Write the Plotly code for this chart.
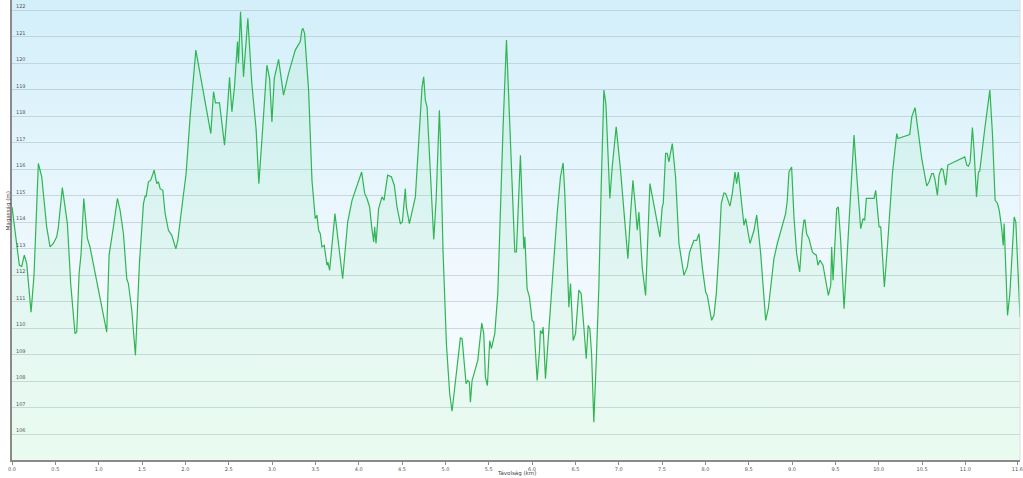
import base64
import plotly.graph_objects as go

# Elevation profile: distance (km) and elevation (m)
distance_km = [
    0.000, 0.054, 0.085, 0.112, 0.142, 0.170, 0.220, 0.254, 0.304, 0.343,
    0.400, 0.439, 0.477, 0.516, 0.535, 0.581, 0.639, 0.677, 0.727, 0.747,
    0.774, 0.797, 0.828, 0.870, 0.900, 1.093, 1.120, 1.170, 1.216, 1.247,
    1.286, 1.324, 1.343, 1.382, 1.424, 1.470, 1.517, 1.536, 1.547, 1.574,
    1.601, 1.640, 1.670, 1.690, 1.709, 1.740, 1.767, 1.805, 1.844, 1.890,
    1.913, 1.960, 2.009, 2.055, 2.121, 2.190, 2.294, 2.325, 2.348, 2.394,
    2.452, 2.487, 2.510, 2.537, 2.567, 2.602, 2.613, 2.637, 2.671, 2.721,
    2.767, 2.817, 2.848, 2.883, 2.920, 2.941, 2.972, 2.999, 3.026, 3.076,
    3.133, 3.191, 3.268, 3.326, 3.345, 3.357, 3.376, 3.422, 3.461, 3.499,
    3.518, 3.538, 3.557, 3.576, 3.603, 3.634, 3.645, 3.665, 3.726, 3.769,
    3.815, 3.873, 3.923, 4.034, 4.069, 4.096, 4.126, 4.150, 4.173, 4.184,
    4.200, 4.230, 4.269, 4.292, 4.334, 4.377, 4.411, 4.442, 4.481, 4.504,
    4.519, 4.538, 4.550, 4.585, 4.654, 4.692, 4.731, 4.750, 4.769, 4.789,
    4.827, 4.866, 4.893, 4.931, 4.943, 4.973, 5.012, 5.050, 5.077, 5.116,
    5.173, 5.193, 5.239, 5.258, 5.277, 5.289, 5.308, 5.374, 5.393, 5.420,
    5.443, 5.462, 5.485, 5.512, 5.531, 5.570, 5.605, 5.635, 5.666, 5.705,
    5.732, 5.770, 5.801, 5.820, 5.866, 5.905, 5.917, 5.943, 5.970, 6.001,
    6.020, 6.059, 6.086, 6.097, 6.117, 6.128, 6.155, 6.174, 6.232, 6.290,
    6.328, 6.359, 6.378, 6.425, 6.444, 6.475, 6.502, 6.540, 6.567, 6.598,
    6.625, 6.648, 6.667, 6.687, 6.713, 6.744, 6.771, 6.798, 6.829, 6.852,
    6.898, 6.925, 6.971, 7.021, 7.079, 7.106, 7.137, 7.164, 7.194, 7.214,
    7.233, 7.271, 7.310, 7.337, 7.360, 7.407, 7.475, 7.502, 7.514, 7.541,
    7.560, 7.579, 7.618, 7.656, 7.695, 7.753, 7.791, 7.818, 7.868, 7.899,
    7.926, 7.964, 8.003, 8.022, 8.072, 8.099, 8.126, 8.157, 8.183, 8.214,
    8.234, 8.284, 8.311, 8.342, 8.360, 8.380, 8.407, 8.445, 8.465, 8.515,
    8.561, 8.592, 8.638, 8.696, 8.726, 8.753, 8.791, 8.830, 8.868, 8.899,
    8.926, 8.945, 8.964, 8.995, 9.022, 9.053, 9.088, 9.118, 9.138, 9.149,
    9.168, 9.195, 9.234, 9.253, 9.280, 9.299, 9.322, 9.357, 9.388, 9.419,
    9.446, 9.457, 9.473, 9.495, 9.515, 9.534, 9.561, 9.600, 9.638, 9.677,
    9.715, 9.742, 9.792, 9.819, 9.838, 9.857, 9.927, 9.946, 9.965, 10.004,
    10.023, 10.042, 10.065, 10.100, 10.158, 10.208, 10.223, 10.358, 10.381, 10.419,
    10.446, 10.496, 10.554, 10.581, 10.612, 10.631, 10.650, 10.677, 10.696, 10.723,
    10.743, 10.773, 10.797, 10.993, 11.016, 11.035, 11.055, 11.081, 11.100, 11.128,
    11.151, 11.166, 11.224, 11.282, 11.312, 11.343, 11.370, 11.390, 11.417, 11.436,
    11.447, 11.467, 11.486, 11.513, 11.543, 11.563, 11.582, 11.630,
]

elevation_m = [
    114.58, 113.07, 112.38, 112.34, 112.76, 112.44, 110.61, 112.00, 116.22, 115.72,
    113.83, 113.07, 113.20, 113.45, 113.83, 115.31, 113.95, 111.69, 109.80, 109.86,
    112.06, 112.82, 114.90, 113.39, 113.07, 109.86, 112.76, 113.83, 114.90, 114.46,
    113.57, 111.87, 111.69, 110.68, 108.98, 112.44, 114.71, 115.00, 114.96, 115.53,
    115.59, 115.97, 115.46, 115.53, 115.27, 115.21, 114.33, 113.70, 113.51, 113.00,
    113.32, 114.58, 115.84, 117.98, 120.50, 119.24, 117.35, 118.93, 118.51, 118.51,
    116.91, 118.36, 119.47, 118.17, 119.11, 120.82, 120.00, 121.95, 119.49, 121.70,
    119.24, 117.48, 115.46, 117.10, 118.99, 119.93, 119.43, 117.79, 119.43, 120.15,
    118.80, 119.62, 120.50, 120.82, 121.26, 121.32, 121.13, 118.99, 115.59, 114.14,
    114.27, 113.70, 113.57, 113.07, 113.13, 112.38, 112.50, 112.19, 114.33, 113.07,
    111.87, 114.01, 114.83, 115.90, 115.09, 114.90, 114.58, 113.83, 113.26, 113.83,
    113.20, 114.52, 114.96, 114.83, 115.78, 115.72, 115.40, 114.58, 113.95, 114.01,
    114.58, 115.27, 114.58, 113.95, 114.96, 116.97, 119.11, 119.49, 118.61, 118.36,
    116.09, 113.35, 114.83, 118.23, 117.10, 112.94, 109.42, 107.53, 106.87, 107.91,
    109.64, 109.61, 107.91, 108.03, 107.97, 107.21, 108.03, 108.79, 109.29, 110.20,
    109.80, 108.16, 107.84, 109.54, 109.23, 109.80, 111.31, 114.58, 117.60, 120.88,
    118.36, 115.46, 112.88, 112.88, 116.53, 113.00, 113.45, 111.50, 111.18, 110.30,
    110.24, 108.03, 109.17, 109.92, 109.80, 110.05, 108.10, 108.91, 111.69, 114.33,
    115.72, 116.24, 115.09, 110.80, 111.69, 109.54, 109.80, 111.44, 111.31, 110.05,
    108.85, 110.11, 109.98, 109.04, 106.46, 109.04, 111.56, 115.34, 118.99, 118.48,
    114.90, 116.09, 117.60, 115.97, 113.83, 112.63, 114.33, 115.59, 114.52, 113.70,
    114.39, 112.31, 111.24, 113.57, 115.46, 114.65, 113.45, 114.58, 114.71, 116.60,
    116.60, 116.28, 116.97, 115.72, 113.20, 112.00, 112.31, 112.88, 113.32, 113.32,
    113.57, 112.31, 111.37, 111.24, 110.30, 110.49, 111.31, 112.94, 114.71, 115.11,
    115.09, 114.61, 115.09, 115.90, 115.46, 115.90, 115.15, 113.89, 114.14, 113.20,
    113.70, 114.27, 112.82, 110.30, 110.74, 111.56, 112.63, 113.20, 113.64, 114.01,
    114.33, 114.83, 115.90, 116.09, 114.20, 112.82, 112.13, 113.57, 114.08, 114.08,
    113.57, 113.39, 112.88, 112.82, 112.76, 112.38, 112.57, 112.38, 111.81, 111.24,
    111.62, 113.07, 111.81, 113.32, 114.52, 114.58, 113.32, 110.74, 112.82, 115.21,
    117.29, 115.97, 113.76, 114.14, 114.08, 114.90, 114.90, 114.90, 115.21, 113.83,
    113.83, 112.82, 111.56, 113.07, 115.84, 117.35, 117.16, 117.31, 117.98, 118.33,
    117.60, 116.41, 115.37, 115.53, 115.84, 115.84, 115.59, 115.02, 115.78, 116.03,
    115.97, 115.40, 116.16, 116.47, 116.16, 116.12, 116.28, 117.58, 116.72, 114.96,
    115.90, 115.94, 117.54, 118.99, 117.35, 114.83, 114.71, 114.46, 113.83, 113.13,
    113.95, 112.31, 110.49, 111.31, 113.00, 114.20, 114.01, 110.43,
]

x_tick_values = [0.0, 0.5, 1.0, 1.5, 2.0, 2.5, 3.0, 3.5, 4.0, 4.5, 5.0, 5.5,
                 6.0, 6.5, 7.0, 7.5, 8.0, 8.5, 9.0, 9.5, 10.0, 10.5, 11.0, 11.6]
x_tick_labels = ["0.0", "0.5", "1.0", "1.5", "2.0", "2.5", "3.0", "3.5", "4.0",
                 "4.5", "5.0", "5.5", "6.0", "6.5", "7.0", "7.5", "8.0", "8.5",
                 "9.0", "9.5", "10.0", "10.5", "11.0", "11.6"]
y_tick_values = [106, 107, 108, 109, 110, 111, 112, 113, 114, 115, 116, 117,
                 118, 119, 120, 121, 122]

x_title = "Távolság (km)"
y_title = "Magasság (m)"

FONT = "Verdana, DejaVu Sans, sans-serif"

svg = (
    '<svg xmlns="http://www.w3.org/2000/svg" width="100" height="100" '
    'preserveAspectRatio="none"><defs><linearGradient id="g" x1="0" y1="0" '
    'x2="0" y2="1"><stop offset="0" stop-color="#d3effa"/>'
    '<stop offset="0.6" stop-color="#f1f9fe"/>'
    '<stop offset="1" stop-color="#fafefc"/></linearGradient></defs>'
    '<rect width="100" height="100" fill="url(#g)"/></svg>'
)
bg_src = "data:image/svg+xml;base64," + base64.b64encode(svg.encode()).decode()

fig = go.Figure()
fig.add_trace(go.Scatter(
    x=distance_km, y=elevation_m, mode="lines",
    line=dict(color="#2fb552", width=1.2),
    fill="tozeroy", fillcolor="rgba(110,225,150,0.11)",
    hoverinfo="skip", showlegend=False,
))

# y tick labels sit inside the plot, just above their gridlines
y_label_annotations = [
    dict(text=str(v), xref="paper", yref="y", x=0, y=v, xanchor="left",
         yanchor="bottom", xshift=2, yshift=-1, showarrow=False,
         font=dict(size=5, color="#555555"))
    for v in y_tick_values
]

fig.update_layout(
    template="none",
    width=1023, height=478,
    margin=dict(l=12, r=3, t=0, b=18, autoexpand=False),
    paper_bgcolor="white",
    plot_bgcolor="rgba(0,0,0,0)",
    font=dict(family=FONT, size=5, color="#555555"),
    images=[dict(source=bg_src, xref="paper", yref="paper", x=0, y=1,
                 sizex=1, sizey=1, xanchor="left", yanchor="top",
                 sizing="stretch", layer="below")],
    xaxis=dict(
        range=[0, 11.63], tickvals=x_tick_values, ticktext=x_tick_labels,
        automargin=False, ticklabeloverflow="allow",
        showgrid=False, zeroline=False, showline=True, linecolor="#8a8a8a",
        linewidth=1.5, ticks="outside", ticklen=3, tickcolor="#8a8a8a",
        tickfont=dict(size=5, color="#555555"),
    ),
    yaxis=dict(
        range=[105.03, 122.39], tickvals=y_tick_values, automargin=False,
        showgrid=True, gridcolor="rgba(170,190,200,0.55)", gridwidth=1,
        zeroline=False, showline=True, linecolor="#8a8a8a", linewidth=1.5,
        ticks="", showticklabels=False,
    ),
    shapes=[dict(type="line", xref="paper", yref="paper", x0=1, x1=1,
                 y0=0, y1=1, line=dict(color="#dddddd", width=1))],
    annotations=y_label_annotations + [
        dict(text=x_title, xref="paper", yref="paper", x=0.5, y=-0.03,
             xanchor="center", yanchor="middle", showarrow=False,
             font=dict(size=5.5, color="#444444")),
        dict(text=y_title, xref="paper", yref="paper", x=-0.004, y=0.543,
             xanchor="center", yanchor="middle", textangle=-90,
             showarrow=False, font=dict(size=5.5, color="#444444")),
    ],
)

fig.write_html(
    "out.html",
    config={"displayModeBar": False},
    post_script="document.body.style.margin='0';"
                "document.body.style.overflow='hidden';",
)
